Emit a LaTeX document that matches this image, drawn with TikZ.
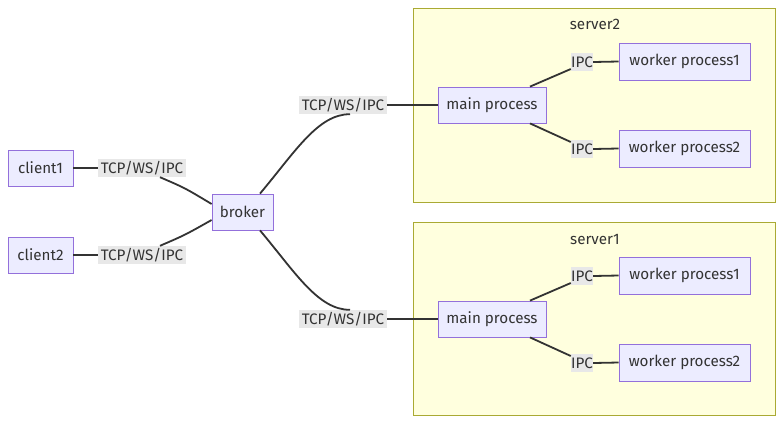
\documentclass[tikz,border=0pt]{standalone}
\usepackage{fontspec}
\setmainfont{Fira Sans}
\usetikzlibrary{calc}
\definecolor{nodefill}{HTML}{ECECFF}
\definecolor{nodestroke}{HTML}{9370DB}
\definecolor{clfill}{HTML}{FFFFDE}
\definecolor{clstroke}{HTML}{AAAA33}
\definecolor{lblbg}{HTML}{E8E8E8}
\definecolor{txt}{HTML}{333333}
\tikzset{
  base/.style={text=txt, font=\fontsize{15.2}{17}\selectfont},
  proc/.style={base, draw=nodestroke, fill=nodefill, line width=0.8pt, minimum height=36pt, inner sep=0pt},
  cluster/.style={draw=clstroke, fill=clfill, line width=1pt},
  clustertitle/.style={base, inner sep=0pt},
  elabel/.style={base, fill=lblbg, inner sep=0pt, minimum height=18pt},
  link/.style={draw=txt, line width=1.8pt},
}
\begin{document}
\begin{tikzpicture}[x=1pt,y=-1pt]
\useasboundingbox[fill=white] (0,0) rectangle (783,424);
% clusters
\draw[cluster] (413,8) rectangle (775,202);
\node[clustertitle] (t2) at (595,24) {server2};
\draw[cluster] (413,222) rectangle (775,415);
\node[clustertitle] (t1) at (595,239) {server1};
% nodes
\node[proc, minimum width=65pt] (c1) at (40.5,168) {client1};
\node[proc, minimum width=65pt] (c2) at (40.5,255) {client2};
\node[proc, minimum width=61pt] (b) at (242.5,212) {broker};
\node[proc, minimum width=108pt] (m2) at (492,105) {main process};
\node[proc, minimum width=131pt, minimum height=37pt] (w21) at (684.5,61.5) {worker process1};
\node[proc, minimum width=131pt, minimum height=37pt] (w22) at (684.5,148.5) {worker process2};
\node[proc, minimum width=108pt] (m1) at (492,319) {main process};
\node[proc, minimum width=131pt, minimum height=37pt] (w11) at (684.5,275.5) {worker process1};
\node[proc, minimum width=131pt, minimum height=37pt] (w12) at (684.5,362.5) {worker process2};
% labels
\node[elabel, minimum width=88pt] (l1) at (142,168) {TCP/WS/IPC};
\node[elabel, minimum width=88pt] (l2) at (142,255) {TCP/WS/IPC};
\node[elabel, minimum width=88pt] (l3) at (343,105) {TCP/WS/IPC};
\node[elabel, minimum width=88pt] (l4) at (343,319) {TCP/WS/IPC};
\node[elabel, minimum width=22pt] (i21) at (582,62) {IPC};
\node[elabel, minimum width=22pt] (i22) at (582,149) {IPC};
\node[elabel, minimum width=22pt] (i11) at (582,276) {IPC};
\node[elabel, minimum width=22pt] (i12) at (582,363) {IPC};
% edges
\draw[link] (c1.east) -- (l1.west);
\draw[link] ($(l1.south)+(18,0)$) .. controls (185,188) .. ($(b.west)+(0,-8)$);
\draw[link] (c2.east) -- (l2.west);
\draw[link] ($(l2.north)+(18,0)$) .. controls (185,235) .. ($(b.west)+(0,8)$);
\draw[link] ($(b.north)+(17.5,0)$) .. controls (295,152) and (318,114) .. ($(l3.south)+(7,0)$);
\draw[link] (l3.east) -- (m2.west);
\draw[link] ($(b.south)+(17.5,0)$) .. controls (295,272) and (318,310) .. ($(l4.north)+(7,0)$);
\draw[link] (l4.east) -- (m1.west);
\draw[link] ($(m2.north)+(38,0)$) .. controls (550,78) .. ($(i21.west)+(0,7)$);
\draw[link] ($(m2.south)+(38,0)$) .. controls (550,133) .. ($(i22.west)+(0,-7)$);
\draw[link] (i21.east) -- (w21.west);
\draw[link] (i22.east) -- (w22.west);
\draw[link] ($(m1.north)+(38,0)$) .. controls (550,292) .. ($(i11.west)+(0,7)$);
\draw[link] ($(m1.south)+(38,0)$) .. controls (550,347) .. ($(i12.west)+(0,-7)$);
\draw[link] (i11.east) -- (w11.west);
\draw[link] (i12.east) -- (w12.west);
\end{tikzpicture}
\end{document}
